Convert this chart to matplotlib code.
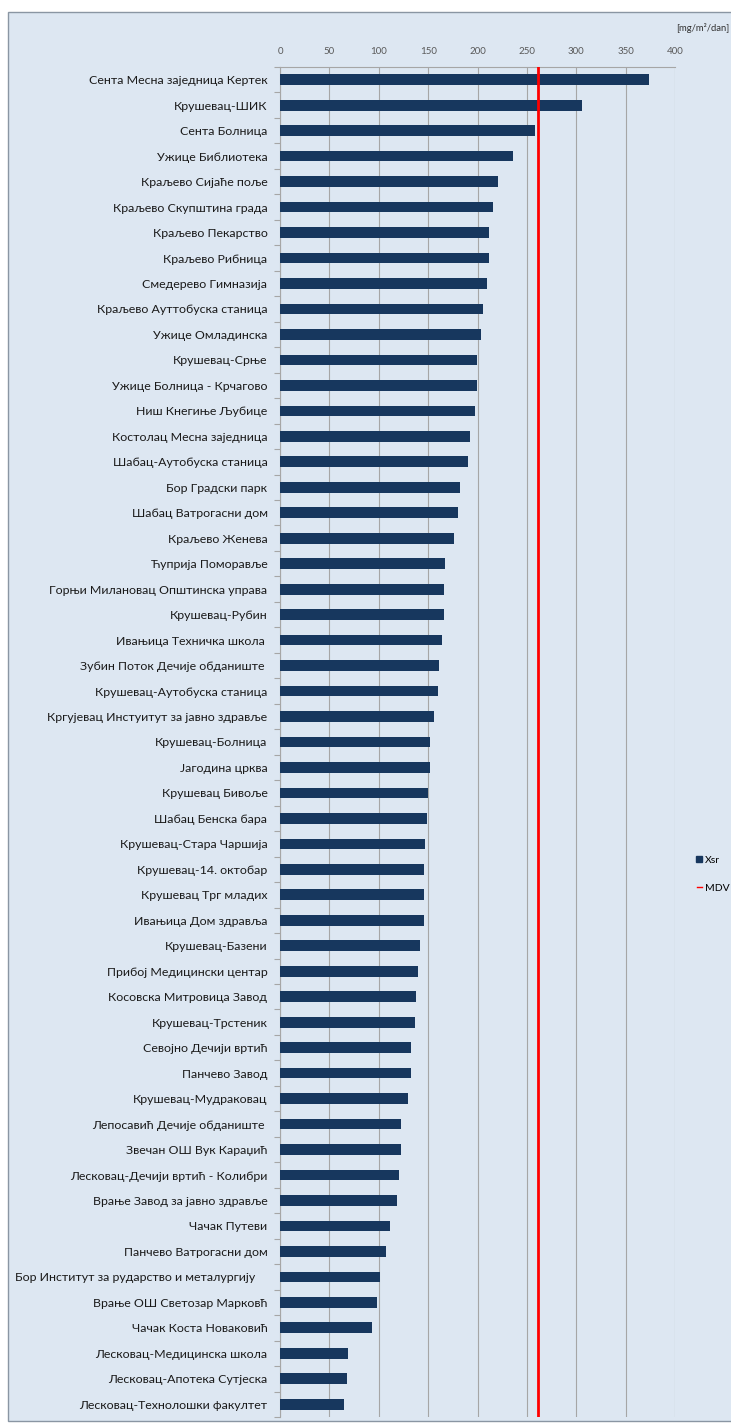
import numpy as np
import matplotlib.pyplot as plt
from matplotlib.patches import Rectangle
from matplotlib.lines import Line2D

# measuring sites, top to bottom as in the chart
stations = [
    "Сента Месна заједница Кертек",
    "Крушевац-ШИК",
    "Сента Болница",
    "Ужице Библиотека",
    "Краљево Сијаће поље",
    "Краљево Скупштина града",
    "Краљево Пекарство",
    "Краљево Рибница",
    "Смедерево Гимназија",
    "Краљево Ауттобуска станица",
    "Ужице Омладинска",
    "Крушевац-Срње",
    "Ужице Болница - Крчагово",
    "Ниш Кнегиње Љубице",
    "Костолац Месна заједница",
    "Шабац-Аутобуска станица",
    "Бор Градски парк",
    "Шабац Ватрогасни дом",
    "Краљево Женева",
    "Ћуприја Поморавље",
    "Горњи Милановац Општинска управа",
    "Крушевац-Рубин",
    "Ивањица Техничка школа ",
    "Зубин Поток Дечије обданиште ",
    "Крушевац-Аутобуска станица",
    "Кргујевац Инстуитут за јавно здравље",
    "Крушевац-Болница",
    "Јагодина црква",
    "Крушевац Бивоље",
    "Шабац Бенска бара",
    "Крушевац-Стара Чаршија",
    "Крушевац-14. октобар",
    "Крушевац Трг младих",
    "Ивањица Дом здравља",
    "Крушевац-Базени",
    "Прибој Медицински центар",
    "Косовска Митровица Завод",
    "Крушевац-Трстеник",
    "Севојно Дечији вртић",
    "Панчево Завод",
    "Крушевац-Мудраковац",
    "Лепосавић Дечије обданиште ",
    "Звечан ОШ Вук Караџић",
    "Лесковац-Дечији вртић - Колибри",
    "Врање Завод за јавно здравље",
    "Чачак Путеви",
    "Панчево Ватрогасни дом",
    "Бор Институт за рударство и металургију    ",
    "Врање ОШ Светозар Марковћ",
    "Чачак Коста Новаковић",
    "Лесковац-Медицинска школа",
    "Лесковац-Апотека Сутјеска",
    "Лесковац-Технолошки факултет",
]

# mean deposited matter, mg/m2/day
xsr = [374, 306, 258.5, 235.5, 221, 216, 212, 212, 209.6, 205.5,
       203.5, 199, 199, 197.4, 192, 190.7, 182, 180, 176.5, 167.4,
       166.4, 166.4, 164.3, 161.3, 160, 156, 152.2, 151.5, 149.5, 148.9,
       147.1, 146.1, 146.1, 145.4, 141.8, 139.7, 137.3, 136.3, 132.3, 132.3,
       129.9, 122.8, 122.5, 120.5, 118.5, 111, 107, 101, 98.5, 93.5,
       68.5, 67.5, 65]

mdv = 261
xticks = [0, 50, 100, 150, 200, 250, 300, 350, 400]

plt.rcParams['font.family'] = ['Lato', 'DejaVu Sans']

W, H = 731, 1426
fig = plt.figure(figsize=(W / 100, H / 100), dpi=100)
fig.patch.set_facecolor('white')

# outer chart frame (behind the axes)
fig.patches.append(Rectangle((8 / W, 1 - 1421 / H), 1.0, (1421 - 12) / H,
                             transform=fig.transFigure, facecolor='#dde7f2',
                             edgecolor='#8a96a3', linewidth=1.0, zorder=-5))

ax = fig.add_axes([280 / W, 1 - 1417 / H, (675 - 280) / W, (1417 - 67) / H])
ax.set_facecolor('none')
ax.set_zorder(2)

y = np.arange(len(stations))
ax.barh(y, xsr, height=0.42, color='#17375e', zorder=3, label='Xsr')
ax.axvline(mdv, color='#ff0000', linewidth=2, zorder=4, label='MDV')

ax.set_xlim(0, 400)
ax.set_ylim(len(stations) - 0.5, -0.5)
ax.set_xticks(xticks)
ax.xaxis.tick_top()
ax.tick_params(axis='x', length=0, labelsize=7, labelcolor='#595959', pad=8)
ax.set_yticks(y)
ax.set_yticklabels(stations, fontsize=8.9, color='#1a1a1a')
ax.set_yticks(np.arange(len(stations) + 1) - 0.5, minor=True)
ax.tick_params(axis='y', which='major', length=0, pad=9)
ax.tick_params(axis='y', which='minor', length=4, color='#a6a6a6', width=0.8)
ax.grid(axis='x', color='#a6a6a6', linewidth=0.8, zorder=1)
for side in ['right', 'bottom']:
    ax.spines[side].set_visible(False)
ax.spines['left'].set_color('#a6a6a6')
ax.spines['top'].set_color('#a6a6a6')

fig.text(729 / W, 1 - 28 / H, '[mg/m²/dan]', fontsize=6.8, color='#333333',
         ha='right', va='center')

handles = [Line2D([], [], marker='s', linestyle='none', color='#17375e', markersize=4),
           Line2D([], [], color='#ff0000', linewidth=1)]
fig.legend(handles, ['Xsr', 'MDV'], loc='upper left',
           bbox_to_anchor=(688 / W, 1 - 846 / H), frameon=False, fontsize=7.5,
           handlelength=0.4, handletextpad=0.3, labelspacing=1.8)

fig.savefig('out.png', dpi=100, facecolor=fig.get_facecolor())
